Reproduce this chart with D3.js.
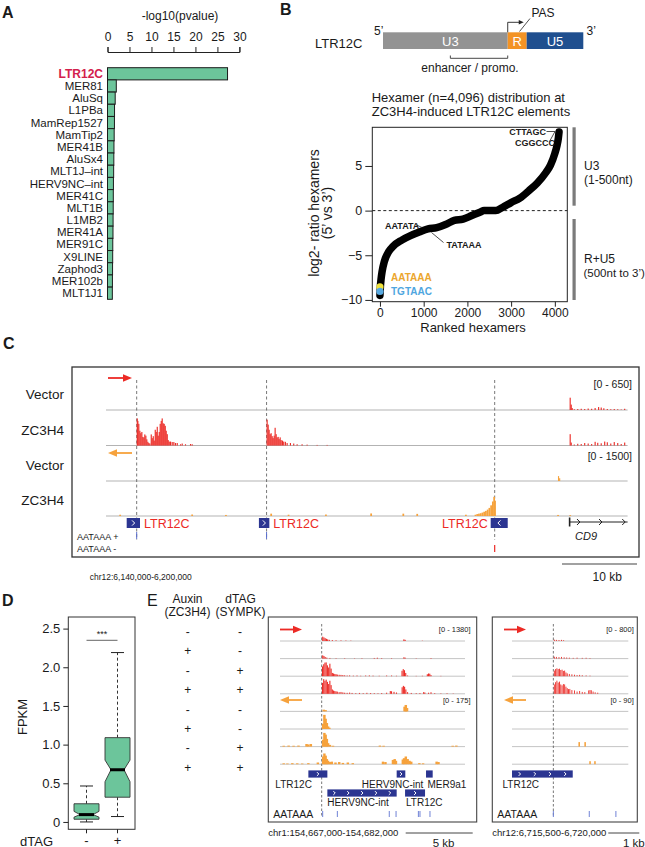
<!DOCTYPE html>
<html><head><meta charset="utf-8">
<script src="https://cdn.jsdelivr.net/npm/d3@7"></script>
<style>body{margin:0;background:#fff}svg{display:block}text{font-family:"Liberation Sans",Arial,Helvetica,sans-serif}</style>
</head><body><svg id="fig" width="645" height="847"></svg>
<script>
// ================= DATA =================
// Panel A: repeat enrichment
const repeatNames = ["LTR12C","MER81","AluSq","L1PBa","MamRep1527","MamTip2","MER41B","AluSx4","MLT1J\u2013int","HERV9NC\u2013int","MER41C","MLT1B","L1MB2","MER41A","MER91C","X9LINE","Zaphod3","MER102b","MLT1J1"];
const repeatLogP = [27.3,2.0,1.75,1.6,1.58,1.52,1.47,1.44,1.4,1.35,1.32,1.3,1.27,1.25,1.2,1.18,1.15,1.12,1.1];
const pTicks = [0,5,10,15,20,25,30];

// Panel B: LTR12C schematic (nt) and ranked hexamer curve
const ltrParts = ["U3","R","U5"];
const ltrPartStart = [0,500,576];
const ltrPartEnd = [500,576,803];
const enhancerRange = [270,500];
const hexRank = [0,10,25,50,100,200,300,500,700,900,1100,1300,1500,1700,1900,2100,2300,2380,2650,2800,3000,3200,3400,3600,3800,3900,4000,4050,4080,4096];
const hexLog2 = [-9.5,-8.5,-7.7,-6.8,-5.7,-4.6,-4.0,-3.3,-2.8,-2.4,-2.05,-1.9,-1.55,-1.1,-0.95,-0.55,-0.15,0,0,0.35,0.9,1.4,2.2,3.1,4.3,5.1,6.4,7.3,8.1,8.8];
const hexXTicks = [0,1000,2000,3000,4000];
const hexYTicks = [-10,-5,0,5];
const aataaaPoint = [0,-8.55];
const tgtaacPoint = [0,-9.05];

// Panel C: chr12:6,140,000-6,200,000 (kb offsets), signal values
const cRegionKb = [0,60];
const cVecPlus = [[53.33,250],[53.45,110],[53.56,40],[53.8,15],[54.2,20],[54.6,25],[55.0,20],[55.4,30],[55.8,25],[56.2,40],[56.6,60],[56.9,50],[57.2,35],[57.6,20],[58.0,15],[58.4,20],[58.8,15],[59.2,10],[59.6,25]];
const cZc3Plus = [[3.53,550],[3.6,500],[3.71,440],[3.83,300],[3.94,250],[4.06,275],[4.17,175],[4.29,165],[4.4,225],[4.52,200],[4.63,125],[4.75,75],[4.86,50],[4.98,40],[5.14,225],[5.25,150],[5.37,190],[5.48,100],[5.6,320],[5.71,275],[5.83,380],[5.94,200],[6.06,275],[6.17,440],[6.29,500],[6.4,550],[6.52,450],[6.63,440],[6.75,400],[6.86,300],[6.98,230],[7.09,110],[7.21,80],[7.36,80],[7.55,70],[7.74,70],[7.93,50],[8.13,50],[8.51,25],[8.7,40],[9.08,25],[9.66,30],[9.85,25],
  [18.47,525],[18.59,425],[18.7,320],[18.82,230],[18.93,250],[19.05,190],[19.16,150],[19.28,200],[19.39,360],[19.51,230],[19.62,165],[19.74,175],[19.85,130],[19.97,165],[20.08,110],[20.23,100],[20.38,80],[20.57,75],[20.77,50],[21.15,50],[21.53,40],[21.92,25],[22.49,25],[23.07,18],[24.22,12],[25.37,12],
  [53.33,230],[53.45,60],[53.8,20],[54.2,35],[54.6,30],[55.0,50],[55.4,40],[55.8,30],[56.2,75],[56.5,55],[56.9,45],[57.3,80],[57.6,65],[58.0,40],[58.4,70],[58.8,50],[59.2,30],[59.6,60]];
const cVecMinus = [[51.99,230],[52.12,130]];
const cZc3Minus = [[1.53,60],[9.81,70],[13.7,50],[18.9,110],[20.9,60],[25.2,70],[30.4,120],[34.1,110],[35.7,100],[41.3,60],[42.4,60],[42.6,90],[42.8,110],[43.0,130],[43.2,160],[43.4,200],[43.6,240],[43.8,300],[44.0,380],[44.2,500],[44.4,680],[44.55,900],[44.65,720],[51.9,50],[53.3,40]];
const cTrackNames = ["Vector","ZC3H4","Vector","ZC3H4"];
const cTrackMax = [650,650,1500,1500];
const cLtrStart = [2.38,17.59,44.25];
const cLtrEnd = [3.91,18.79,46.21];
const cLtrStrand = ["+","+","-"];
const cLtrTss = [3.53,18.47,44.71];
const cAataaaPlus = [3.53,18.47];
const cAataaaMinus = [44.71];
const cd9Range = [53.33,60];

// Panel D: FPKM boxplot stats
const dtagGroups = ["-","+"];
const fpkmLow = [0.0,0.07];
const fpkmQ1 = [0.035,0.32];
const fpkmMedian = [0.095,0.675];
const fpkmQ3 = [0.235,1.09];
const fpkmHigh = [0.465,2.19];
const fpkmNotchLo = [0.062,0.52];
const fpkmNotchHi = [0.137,0.80];
const fpkmTicks = [0,0.5,1,1.5,2,2.5];

// Panel E
const auxinState = ["-","+","-","+","-","+","-","+"];
const dtagState = ["-","-","+","+","-","-","+","+"];
const eLeftKb = [0,15];
const eRightKb = [0,4.5];
const eLeftTracks = [
 [[3.42,400],[3.52,330],[3.62,260],[3.72,200],[3.82,150],[3.95,110],[4.2,80],[4.5,60],[4.9,50],[5.3,40],[5.7,30],[10.0,150],[10.1,110],[11.5,25]],
 [[3.42,300],[3.52,240],[3.62,150],[3.75,90],[4.0,60],[4.5,40],[5.2,40],[6.0,30],[6.6,40],[7.6,60],[7.85,80],[8.2,50],[9.0,40],[10.0,120],[10.1,90],[11.0,30],[12.2,50]],
 [[3.4,900],[3.5,1100],[3.6,1250],[3.7,1270],[3.8,1000],[3.9,800],[4.0,1150],[4.1,700],[4.2,300],[4.3,250],[4.4,200],[4.5,180],[4.6,150],[4.75,130],[4.9,120],[5.05,100],[5.2,80],[5.4,60],[5.6,70],[5.9,50],[6.2,60],[6.5,40],[6.9,60],[7.2,70],[7.5,50],[8.0,40],[8.6,60],[9.0,60],[9.4,40],[9.85,500],[9.95,650],[10.05,550],[10.15,300],[10.3,60],[11.0,30],[11.5,40],[11.9,180],[12.0,250],[12.1,230],[12.2,100],[13.0,30]],
 [[3.4,1000],[3.5,1350],[3.6,1200],[3.7,1300],[3.8,1100],[3.9,900],[4.0,1200],[4.1,800],[4.2,400],[4.3,300],[4.4,250],[4.5,220],[4.6,200],[4.75,150],[4.9,170],[5.05,130],[5.2,100],[5.4,90],[5.6,110],[5.8,80],[6.1,60],[6.4,80],[6.7,60],[7.0,90],[7.3,70],[7.6,60],[7.9,50],[8.2,70],[8.6,100],[8.9,250],[9.0,230],[9.2,180],[9.4,120],[9.86,600],[9.96,730],[10.06,650],[10.16,400],[10.3,150],[10.6,80],[11.0,60],[11.3,70],[11.6,150],[11.7,120],[12.0,100],[12.2,140],[12.5,60],[13.0,40],[13.5,50],[14.0,30]],
 [[3.45,20],[3.6,15],[10.0,55],[10.1,75],[10.2,40]],
 [[3.4,60],[3.5,165],[3.6,120],[3.7,70],[3.8,30],[3.9,15]],
 [[0.2,10],[0.6,12],[1.0,10],[1.4,12],[2.05,30],[2.2,25],[2.4,30],[3.4,80],[3.5,160],[3.6,140],[3.7,90],[3.8,40],[3.95,20],[4.2,10],[8.0,12],[8.3,10],[13.9,10],[14.2,12]],
 [[0.2,10],[0.5,8],[0.9,12],[1.3,10],[1.7,8],[2.2,12],[2.97,20],[3.4,90],[3.5,125],[3.6,100],[3.7,60],[3.8,40],[3.95,25],[4.1,30],[4.4,20],[4.7,25],[5.0,15],[5.4,20],[5.8,12],[8.25,30],[8.45,25],[9.06,50],[9.2,60],[9.3,40],[9.86,55],[9.96,70],[10.1,90],[10.25,60],[10.4,40],[10.54,30],[11.2,12],[11.5,10],[12.6,30],[12.75,25]]
];
const eRightTracks = [
 [[1.62,70],[1.7,60],[1.8,50],[1.9,60],[1.98,40]],
 [[1.62,100],[1.7,90],[1.8,80],[1.9,90],[2.0,70],[2.1,60],[2.2,50],[2.35,40],[2.5,50],[2.7,40],[2.85,45],[3.0,30]],
 [[1.62,300],[1.67,380],[1.72,420],[1.77,380],[1.82,400],[1.87,330],[1.92,350],[1.97,280],[2.02,300],[2.07,200],[2.12,150],[2.2,120],[2.3,100],[2.4,80],[2.5,60],[2.6,70],[2.7,50],[2.85,40],[3.0,30]],
 [[1.62,500],[1.67,620],[1.72,700],[1.77,600],[1.82,650],[1.87,500],[1.92,450],[1.97,520],[2.02,500],[2.07,380],[2.12,300],[2.17,250],[2.22,260],[2.3,200],[2.4,180],[2.5,120],[2.6,150],[2.7,100],[2.8,90],[2.95,180],[3.0,200],[3.05,190],[3.12,120],[3.2,80],[3.3,60]],
 [],[],
 [[2.57,27],[2.8,27]],
 [[2.99,18],[3.18,18]]
];
const eLeftMax = [1380,175];
const eRightMax = [800,90];
const eLeftTss = 3.38, eRightTss = 1.6;
const eLeftFeatName = ["LTR12C","HERV9NC-int","MER9a1","HERV9NC-int","LTR12C"];
const eLeftFeatStart = [2.3,9.46,11.84,3.84,10.14];
const eLeftFeatEnd = [3.84,10.16,12.38,9.46,11.76];
const eLeftFeatRow = [0,0,0,1,1];
const eLeftAataaa = [3.46,4.65,8.86,9.41,11.22,11.35,12.16];
const eRightFeatName = ["LTR12C"];
const eRightFeatStart = [0.0];
const eRightFeatEnd = [2.35];
const eRightFeatRow = [0];
const eRightAataaa = [1.6,2.99,4.02];

// ================= DRAWING =================
const RED = "#ec2a25", ORANGE = "#f6a23c", NAVY = "#2b3591", GREEN = "#6cc59b", INK = "#1a1a1a";
const svg = d3.select("#fig");
svg.append("rect").attr("width",645).attr("height",847).attr("fill","#fff");

function T(g,x,y,s,size,o={}){
  const t=g.append("text").attr("x",x).attr("y",y).text(s).attr("font-size",size)
    .attr("fill",o.fill||INK).attr("text-anchor",o.anchor||"start");
  if(o.weight) t.attr("font-weight",o.weight);
  if(o.style) t.attr("font-style",o.style);
  if(o.family) t.attr("font-family",o.family);
  if(o.rotate) t.attr("transform",`rotate(${o.rotate},${x},${y})`);
  return t;
}
function arrow(g,x0,x1,y,color){
  const d=Math.sign(x1-x0);
  g.append("line").attr("x1",x0).attr("x2",x1-d*6).attr("y1",y).attr("y2",y).attr("stroke",color).attr("stroke-width",1.8);
  g.append("path").attr("d",`M${x1},${y}L${x1-d*9},${y-3.8}L${x1-d*9},${y+3.8}Z`).attr("fill",color);
}
function signal(g,data,xs,base,h,maxV,color,bin){
  const yh=d3.scaleLinear().domain([0,maxV]).range([0,h]).clamp(true);
  g.selectAll(null).data(data).enter().append("rect")
   .attr("x",d=>xs(d[0])).attr("width",d=>Math.max(0.9,xs(d[0]+bin)-xs(d[0])))
   .attr("y",d=>base-yh(d[1])).attr("height",d=>yh(d[1])).attr("fill",color);
}
function styleAxis(sel,size){
  sel.selectAll("text").attr("font-size",size).attr("font-family",'"Liberation Sans",Arial,sans-serif').attr("fill",INK);
  sel.selectAll("line").attr("stroke","#222");
  sel.selectAll("path.domain").attr("stroke","#222");
}
function chevron(g,x,yc,dir,size){
  g.append("path").attr("d",`M${x-dir*size*0.5},${yc-size}L${x+dir*size*0.5},${yc}L${x-dir*size*0.5},${yc+size}`)
   .attr("fill","none").attr("stroke","#fff").attr("stroke-width",1);
}

// ---------- Panel A ----------
const gA = svg.append("g");
T(gA,2,18,"A",16,{weight:"bold"});
const xA = d3.scaleLinear().domain([0,30]).range([107.5,239.4]);
const yA = d3.scaleBand().domain(repeatNames).range([67.7,299.3]).padding(0);
T(gA,180,20,"-log10(pvalue)",12,{anchor:"middle"});
const axA = gA.append("g").attr("transform","translate(0,52)")
  .call(d3.axisTop(xA).tickValues(pTicks).tickSize(5).tickSizeOuter(5).tickPadding(6));
styleAxis(axA,12);
gA.selectAll("rect.bar").data(repeatNames).enter().append("rect")
  .attr("x",xA(0)).attr("y",d=>yA(d)).attr("height",yA.bandwidth())
  .attr("width",(d,i)=>xA(repeatLogP[i])-xA(0))
  .attr("fill",GREEN).attr("stroke","#1b1b1b").attr("stroke-width",1);
repeatNames.forEach((n,i)=>{
  T(gA,103,yA(n)+yA.bandwidth()/2+4,n,i===0?12:11.5,{anchor:"end",fill:i===0?"#d3214c":INK,weight:i===0?"bold":null});
});

// ---------- Panel B ----------
const gB = svg.append("g");
T(gB,280,15,"B",16,{weight:"bold"});
const xL = d3.scaleLinear().domain([0,803]).range([383,583.3]);
const ltrColors = ["#939393","#f39325","#1f4f8f"];
T(gB,315,48,"LTR12C",13);
ltrParts.forEach((p,i)=>{
  gB.append("rect").attr("x",xL(ltrPartStart[i])).attr("y",32.3).attr("width",xL(ltrPartEnd[i])-xL(ltrPartStart[i])).attr("height",16.7).attr("fill",ltrColors[i]);
  const cx = i===0 ? xL(ltrPartStart[i])+(xL(ltrPartEnd[i])-xL(ltrPartStart[i]))*0.54 : (xL(ltrPartStart[i])+xL(ltrPartEnd[i]))/2;
  T(gB,cx,45.5,p,13,{anchor:"middle",fill:"#fff"});
});
T(gB,374,35,"5\u2019",12);
T(gB,586.5,35,"3\u2019",12);
const tssX = xL(ltrPartStart[1]);
gB.append("path").attr("d",`M${tssX},32.3V22.3H${tssX+13}`).attr("fill","none").attr("stroke","#222").attr("stroke-width",0.9);
gB.append("path").attr("d",`M${tssX+16},22.3L${tssX+11},20L${tssX+11},24.6Z`).attr("fill","#222");
T(gB,531.5,17,"PAS",12);
gB.append("line").attr("x1",530).attr("y1",18.5).attr("x2",519.5).attr("y2",31.5).attr("stroke","#222").attr("stroke-width",0.8);
gB.append("path").attr("d",`M${xL(enhancerRange[0])},55.5V58.3H${xL(enhancerRange[1])}V55.5`).attr("fill","none").attr("stroke","#333").attr("stroke-width",0.9);
T(gB,470,72,"enhancer / promo.",12,{anchor:"middle"});

// hexamer plot
T(gB,371.7,102,"Hexamer (n=4,096) distribution at",13);
T(gB,371.7,116,"ZC3H4-induced LTR12C elements",13);
const xB = d3.scaleLinear().domain([-175,4285]).range([372.3,567.3]);
const yB = d3.scaleLinear().domain([-10.2,9.33]).range([301.7,127.3]);
gB.append("line").attr("x1",372.3).attr("x2",567.3).attr("y1",yB(0)).attr("y2",yB(0)).attr("stroke","#222").attr("stroke-dasharray","3,2.5").attr("stroke-width",1);
const line = d3.line().x(d=>xB(d[0])).y(d=>yB(d[1])).curve(d3.curveMonotoneX);
gB.append("path").datum(hexRank.map((r,i)=>[r,hexLog2[i]])).attr("d",line)
  .attr("fill","none").attr("stroke","#000").attr("stroke-width",7.5).attr("stroke-linecap","round").attr("stroke-linejoin","round");
gB.append("circle").attr("cx",xB(aataaaPoint[0])).attr("cy",yB(aataaaPoint[1])).attr("r",3.6).attr("fill","#efe23c");
gB.append("circle").attr("cx",xB(tgtaacPoint[0])).attr("cy",yB(tgtaacPoint[1])).attr("r",3.6).attr("fill","#58a9e0");
gB.append("rect").attr("x",372.3).attr("y",127.3).attr("width",195).attr("height",174.4).attr("fill","none").attr("stroke","#222").attr("stroke-width",1);
const axBy = gB.append("g").attr("transform","translate(372.3,0)")
  .call(d3.axisLeft(yB).tickValues(hexYTicks).tickSize(7).tickPadding(3).tickFormat(d=>d<0?"\u2212"+Math.abs(d):d));
axBy.select(".domain").remove(); styleAxis(axBy,12.5);
const axBx = gB.append("g").attr("transform","translate(0,301.7)")
  .call(d3.axisBottom(xB).tickValues(hexXTicks).tickSize(5).tickPadding(2).tickFormat(d3.format("d")));
axBx.select(".domain").remove(); styleAxis(axBx,12);
T(gB,473,332,"Ranked hexamers",13,{anchor:"middle"});
T(gB,318.5,213,"log2- ratio hexamers",14,{anchor:"middle",rotate:-90});
T(gB,331.5,213,"(5\u2019 vs 3\u2019)",14,{anchor:"middle",rotate:-90});
const MONO = '"Liberation Mono","DejaVu Sans Mono",monospace';
T(gB,509.3,135,"CTTAGC",9,{family:MONO,weight:"bold"});
T(gB,515,146,"CGGCCC",9,{family:MONO,weight:"bold"});
gB.append("path").attr("d","M546.5,131.5H555L549.5,141.5").attr("fill","none").attr("stroke","#222").attr("stroke-width",0.8);
T(gB,385,228.5,"AATATA",9,{family:MONO,weight:"bold"});
gB.append("line").attr("x1",415.5).attr("y1",224.5).attr("x2",422).attr("y2",227.5).attr("stroke","#222").attr("stroke-width",0.8);
T(gB,446.5,247.5,"TATAAA",9,{family:MONO,weight:"bold"});
gB.append("line").attr("x1",443.5).attr("y1",242.5).attr("x2",431.5).attr("y2",232.5).attr("stroke","#222").attr("stroke-width",0.8);
T(gB,391,280.5,"AATAAA",10,{family:MONO,weight:"bold",fill:"#eba62e"});
T(gB,391,294.5,"TGTAAC",10,{family:MONO,weight:"bold",fill:"#4fa6e0"});
gB.append("rect").attr("x",572.5).attr("y",127.3).attr("width",3.2).attr("height",78.4).attr("fill","#7b7b7b");
gB.append("rect").attr("x",572.5).attr("y",219).attr("width",3.2).attr("height",81).attr("fill","#7b7b7b");
T(gB,584,170,"U3",12);
T(gB,584,183.5,"(1-500nt)",12);
T(gB,584,263,"R+U5",12);
T(gB,583.5,276.5,"(500nt to 3\u2019)",11.5);

// ---------- Panel C ----------
const gC = svg.append("g");
T(gC,3,349,"C",16,{weight:"bold"});
gC.append("rect").attr("x",72).attr("y",367).attr("width",567).attr("height",190).attr("fill","none").attr("stroke","#333").attr("stroke-width",1.3);
const xC = d3.scaleLinear().domain(cRegionKb).range([106,627.6]);
const cBase = [410,445.5,481,516];
const cData = [cVecPlus,cZc3Plus,cVecMinus,cZc3Minus];
const cBins = [0.13,0.13,0.13,0.2];
cTrackNames.forEach((n,i)=>{
  gC.append("line").attr("x1",106).attr("x2",627.6).attr("y1",cBase[i]).attr("y2",cBase[i]).attr("stroke","#b3b3b3").attr("stroke-width",1);
  T(gC,64,cBase[i]-11,n,13.5,{anchor:"end"});
});
cLtrTss.forEach(p=>{
  gC.append("line").attr("x1",xC(p)).attr("x2",xC(p)).attr("y1",380).attr("y2",540).attr("stroke","#555").attr("stroke-dasharray","3,2.5").attr("stroke-width",0.8);
});
cData.forEach((d,i)=>signal(gC,d,xC,cBase[i],32,cTrackMax[i],i<2?RED:ORANGE,cBins[i]));
arrow(gC,108,132,378,RED);
arrow(gC,132,108,453,ORANGE);
T(gC,632,388,"[0 - 650]",10.5,{anchor:"end"});
T(gC,632,460,"[0 - 1500]",10.5,{anchor:"end"});
cLtrStart.forEach((s,i)=>{
  const x0=xC(s), x1=xC(cLtrEnd[i]);
  gC.append("rect").attr("x",x0).attr("y",518).attr("width",x1-x0).attr("height",10).attr("fill",NAVY);
  chevron(gC,(x0+x1)/2,523,cLtrStrand[i]==="+"?1:-1,2.6);
  if(cLtrStrand[i]==="+") T(gC,x1+4,527.5,"LTR12C",12.5,{fill:RED});
  else T(gC,x0-3,527.5,"LTR12C",12.5,{fill:RED,anchor:"end"});
});
const cd0=xC(cd9Range[0]), cd1=xC(cd9Range[1]);
gC.append("line").attr("x1",cd0).attr("x2",cd1).attr("y1",522).attr("y2",522).attr("stroke","#222").attr("stroke-width",1);
gC.append("line").attr("x1",cd0).attr("x2",cd0).attr("y1",517.5).attr("y2",526.5).attr("stroke","#222").attr("stroke-width",1.6);
[0.17,0.55,0.95].forEach(f=>{const x=cd0+(cd1-cd0)*f;
  gC.append("path").attr("d",`M${x-2.5},${519}L${x+0.5},${522}L${x-2.5},${525}`).attr("fill","none").attr("stroke","#222").attr("stroke-width",1);});
T(gC,575,540,"CD9",11,{style:"italic"});
T(gC,77,539.5,"AATAAA +",9);
T(gC,77,551.5,"AATAAA -",9);
cAataaaPlus.forEach(p=>gC.append("line").attr("x1",xC(p)).attr("x2",xC(p)).attr("y1",532).attr("y2",539).attr("stroke","#5b6fcf").attr("stroke-width",1));
cAataaaMinus.forEach(p=>gC.append("line").attr("x1",xC(p)).attr("x2",xC(p)).attr("y1",545).attr("y2",552).attr("stroke",RED).attr("stroke-width",1.2));
T(gC,89.7,580,"chr12:6,140,000-6,200,000",8.5);
gC.append("line").attr("x1",562).attr("x2",637).attr("y1",564).attr("y2",564).attr("stroke","#444").attr("stroke-width",1.2);
T(gC,592.5,581,"10 kb",12);

// ---------- Panel D ----------
const gD = svg.append("g");
T(gD,2,606,"D",16,{weight:"bold"});
const xD = d3.scaleBand().domain(dtagGroups).range([71,133]);
const yD = d3.scaleLinear().domain([-0.095,2.65]).range([829.3,617]);
const hw = 12.5, nw = 6.5, cw = 6.5;
dtagGroups.forEach((g,i)=>{
  const cx = xD(g)+xD.bandwidth()/2;
  gD.append("line").attr("x1",cx).attr("x2",cx).attr("y1",yD(fpkmQ3[i])).attr("y2",yD(fpkmHigh[i])).attr("stroke","#333").attr("stroke-dasharray","3,2.5");
  gD.append("line").attr("x1",cx).attr("x2",cx).attr("y1",yD(fpkmQ1[i])).attr("y2",yD(fpkmLow[i])).attr("stroke","#333").attr("stroke-dasharray","3,2.5");
  [fpkmHigh[i],fpkmLow[i]].forEach(v=>gD.append("line").attr("x1",cx-cw).attr("x2",cx+cw).attr("y1",yD(v)).attr("y2",yD(v)).attr("stroke","#222"));
  const pts=[[cx-hw,yD(fpkmQ1[i])],[cx+hw,yD(fpkmQ1[i])],[cx+hw,yD(fpkmNotchLo[i])],[cx+nw,yD(fpkmMedian[i])],[cx+hw,yD(fpkmNotchHi[i])],[cx+hw,yD(fpkmQ3[i])],
    [cx-hw,yD(fpkmQ3[i])],[cx-hw,yD(fpkmNotchHi[i])],[cx-nw,yD(fpkmMedian[i])],[cx-hw,yD(fpkmNotchLo[i])]];
  gD.append("path").attr("d","M"+pts.map(p=>p.join(",")).join("L")+"Z").attr("fill",GREEN).attr("stroke","#333").attr("stroke-width",0.9);
  gD.append("line").attr("x1",cx-nw-1).attr("x2",cx+nw+1).attr("y1",yD(fpkmMedian[i])).attr("y2",yD(fpkmMedian[i])).attr("stroke","#000").attr("stroke-width",3);
});
gD.append("rect").attr("x",68.3).attr("y",617).attr("width",66.7).attr("height",212.3).attr("fill","none").attr("stroke","#333").attr("stroke-width",1);
const axDy = gD.append("g").attr("transform","translate(68.3,0)")
  .call(d3.axisLeft(yD).tickValues(fpkmTicks).tickSize(5).tickPadding(3).tickFormat(d=>d===0?"0":d.toFixed(1)));
axDy.select(".domain").remove(); styleAxis(axDy,13);
const axDx = gD.append("g").attr("transform","translate(0,829.3)").call(d3.axisBottom(xD).tickSize(4).tickPadding(2));
axDx.select(".domain").remove(); styleAxis(axDx,13);
T(gD,20,845.5,"dTAG",13);
T(gD,26.5,717,"FPKM",13,{anchor:"middle",rotate:-90});
const c0=xD("-")+xD.bandwidth()/2, c1=xD("+")+xD.bandwidth()/2;
gD.append("line").attr("x1",c0).attr("x2",c1).attr("y1",640.3).attr("y2",640.3).attr("stroke","#666").attr("stroke-width",1);
T(gD,(c0+c1)/2,637,"***",9,{anchor:"middle"});

// ---------- Panel E ----------
const gE = svg.append("g");
T(gE,147,606,"E",16);
T(gE,187.5,603,"Auxin",12,{anchor:"middle"});
T(gE,187.5,615.5,"(ZC3H4)",12,{anchor:"middle"});
T(gE,240.5,603,"dTAG",12,{anchor:"middle"});
T(gE,240.5,615.5,"(SYMPK)",12,{anchor:"middle"});
auxinState.forEach((s,i)=>{
  const y=632+i*19.4+4;
  T(gE,187.7,y,s,12,{anchor:"middle"});
  T(gE,240,y,dtagState[i],12,{anchor:"middle"});
});
const eBase = d3.range(8).map(i=>641+i*17.6);
function ePanel(bx0,bx1,tx0,tx1,kb,tracks,maxes,tss,featName,featStart,featEnd,featRow,aat,rangeLbl,chrLbl,scaleX0,scaleX1,kbLbl,kbX,labelPos,arrowX){
  const g=gE.append("g");
  g.append("rect").attr("x",bx0).attr("y",617).attr("width",bx1-bx0).attr("height",205).attr("fill","none").attr("stroke","#444").attr("stroke-width",1.1);
  const xs=d3.scaleLinear().domain(kb).range([tx0,tx1]);
  eBase.forEach(b=>g.append("line").attr("x1",tx0).attr("x2",tx1).attr("y1",b).attr("y2",b).attr("stroke","#bdbdbd").attr("stroke-width",0.9));
  g.append("line").attr("x1",xs(tss)).attr("x2",xs(tss)).attr("y1",624).attr("y2",817).attr("stroke","#555").attr("stroke-dasharray","2.5,2").attr("stroke-width",0.8);
  tracks.forEach((d,i)=>signal(g,d,xs,eBase[i],15,maxes[i<4?0:1],i<4?RED:ORANGE,i<4?kb[1]/170:kb[1]/75));
  arrow(g,arrowX[0],arrowX[1],629.5,RED);
  arrow(g,arrowX[1],arrowX[0],700,ORANGE);
  T(g,tx1+5.5,632,rangeLbl[0],7.5,{anchor:"end"});
  T(g,tx1+5.5,703,rangeLbl[1],7.5,{anchor:"end"});
  featName.forEach((n,i)=>{
    const x0=xs(featStart[i]), x1=xs(featEnd[i]), yc=featRow[i]===0?774:793;
    g.append("rect").attr("x",x0).attr("y",yc-3.6).attr("width",x1-x0).attr("height",7.2).attr("fill",NAVY);
    const n_ch=Math.max(1,Math.round((x1-x0)/13.5));
    if(x1-x0>8) for(let k=0;k<n_ch;k++) chevron(g,x0+(x1-x0)*(k+0.5)/n_ch,yc,1,1.9);
    const lp=labelPos[i];
    const lx = lp[0]==="start" ? x0+lp[1] : x1+lp[1];
    T(g,lx,featRow[i]===0?787.5:805.5,n,10,{anchor:lp[2]});
  });
  T(g,bx0+5,818,"AATAAA",10.5);
  aat.forEach(p=>g.append("line").attr("x1",xs(p)).attr("x2",xs(p)).attr("y1",811).attr("y2",817).attr("stroke","#7082d6").attr("stroke-width",1));
  T(g,bx0,835.5,chrLbl,9.5);
  g.append("line").attr("x1",scaleX0).attr("x2",scaleX1).attr("y1",833).attr("y2",833).attr("stroke","#444").attr("stroke-width",1);
  T(g,kbX,846.5,kbLbl,11.5);
}
ePanel(268.3,476.7,280,465,eLeftKb,eLeftTracks,eLeftMax,eLeftTss,eLeftFeatName,eLeftFeatStart,eLeftFeatEnd,eLeftFeatRow,eLeftAataaa,
  ["[0 - 1380]","[0 - 175]"],"chr1:154,667,000-154,682,000",405.7,472.7,"5 kb",432.7,
  [["start",3.5,"end"],["end",18,"end"],["start",1.5,"start"],["start",0,"start"],["start",1,"start"]],[280,302]);
ePanel(492.3,637.3,512,628.3,eRightKb,eRightTracks,eRightMax,eRightTss,eRightFeatName,eRightFeatStart,eRightFeatEnd,eRightFeatRow,eRightAataaa,
  ["[0 - 800]","[0 - 90]"],"chr12:6,715,500-6,720,000",608.3,639.3,"1 kb",623,
  [["start",-9.5,"start"]],[504,526]);
</script></body></html>
